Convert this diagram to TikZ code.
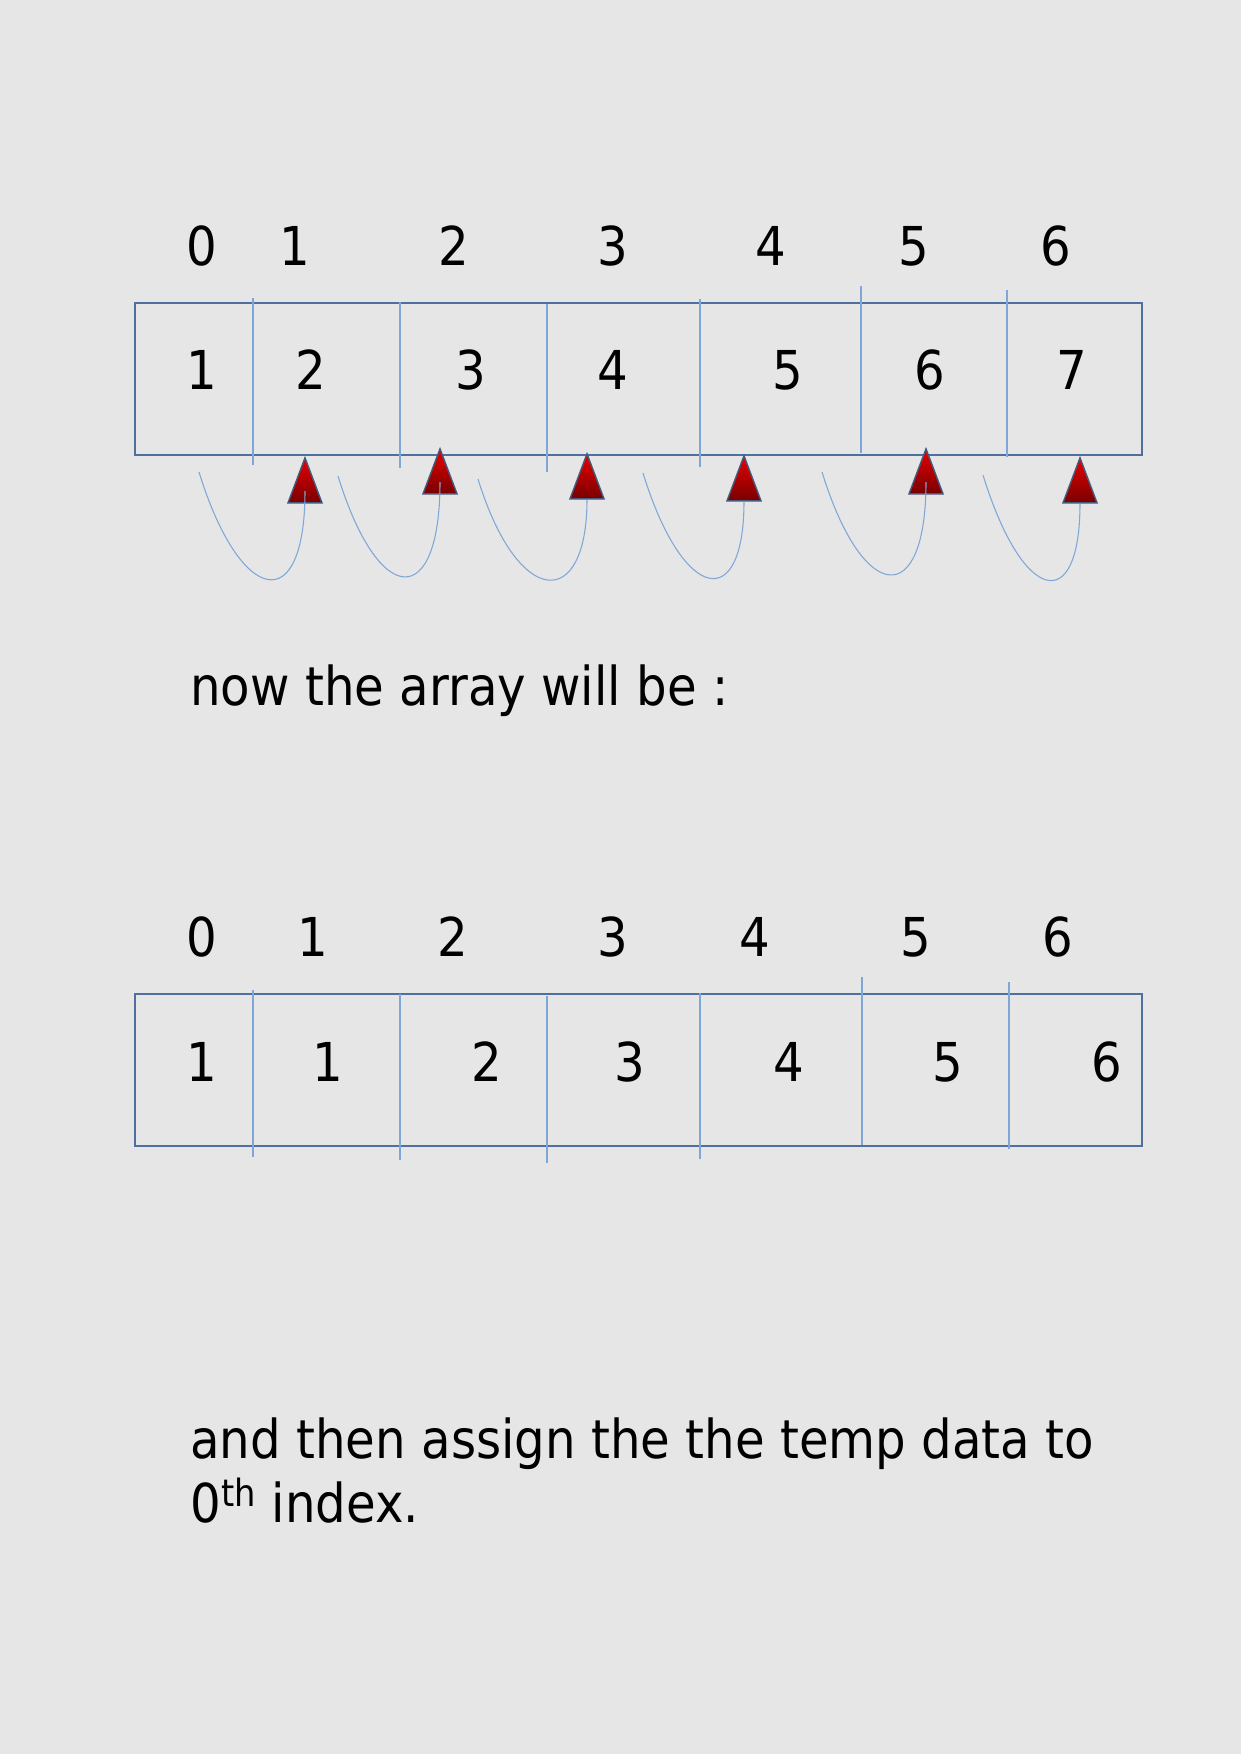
\documentclass[tikz,border=0pt]{standalone}
\usepackage{fontspec}
\setmainfont{DejaVu Sans}[FakeStretch=0.9]
\usepackage{tikz}
\usetikzlibrary{shapes.geometric,positioning}
\usepackage{xcolor}
\definecolor{bgcol}{RGB}{230,230,230}
\definecolor{boxcol}{RGB}{79,111,159}
\definecolor{divcol}{RGB}{126,166,214}
\definecolor{tritop}{RGB}{232,0,0}
\definecolor{tribot}{RGB}{120,0,0}
\definecolor{triedge}{RGB}{70,90,125}

\begin{document}
\begin{tikzpicture}[
  x=0.02cm, y=-0.02cm,
  idx/.style={font=\fontsize{30.5}{36}\selectfont, inner sep=0pt},
  arrbox/.style={draw=boxcol, line width=1.2pt, minimum width=20.14cm,
                 minimum height=3.04cm, anchor=north west, inner sep=0pt},
  divider/.style={draw=divcol, line width=0.6pt},
  pointer/.style={isosceles triangle, shape border rotate=90,
                  isosceles triangle stretches, minimum width=0.68cm,
                  minimum height=0.9cm, inner sep=0pt, anchor=apex,
                  draw=triedge, line width=0.8pt,
                  top color=tritop, bottom color=tribot},
  hop/.style={draw=divcol, line width=0.6pt},
  note/.style={font=\fontsize{30.5}{36}\selectfont, inner sep=0pt,
               anchor=base west}
]
  \useasboundingbox (0,0) rectangle (1241,1754);
  \fill[bgcol] (0,0) rectangle (1241,1754);

  % Array before the shift
  \node[arrbox] (arrA) at (134,302) {};
  \foreach \x/\ya/\yb in {253/298/465,400/302/468,547/304/472,
                          700/299/467,861/286/453,1007/290/457} {
    \draw[divider] (\x,\ya) -- (\x,\yb);
  }
  \foreach \n/\x in {0/202,1/295,2/454,3/613,4/771,5/914,6/1056} {
    \node[idx] (ia\n) at (\x,246) {\n};
  }
  \foreach \v/\x [count=\i] in {1/202,2/311,3/471,4/613,5/788,6/930,7/1072} {
    \node[idx] (va\i) at (\x,370) {\v};
  }

  % Pointers (each value moves one cell right)
  \foreach \x/\y [count=\i] in {305/456,440/447,587/452,744/454,926/447,1080/456} {
    \node[pointer] (t\i) at (\x,\y) {};
  }
  \coordinate (c1) at (199,472);
  \coordinate (c2) at (338,476);
  \coordinate (c3) at (478,479);
  \coordinate (c4) at (643,473);
  \coordinate (c5) at (822,472);
  \coordinate (c6) at (983,475);
  \foreach \i in {1,2,5} {
    \draw[hop] (c\i) .. controls +(41,133) and +(0,128) .. (t\i.center);
  }
  \foreach \i in {3,4,6} {
    \draw[hop] (c\i) .. controls +(40,130) and +(0,112) .. (t\i.south);
  }

  \node[note] (msg1) at (190,705) {now the array will be :};

  % Array after the shift
  \node[arrbox] (arrB) at (134,993) {};
  \foreach \x/\ya/\yb in {253/990/1157,400/994/1160,547/996/1163,
                          700/993/1159,862/977/1145,1009/982/1149} {
    \draw[divider] (\x,\ya) -- (\x,\yb);
  }
  \foreach \n/\x in {0/202,1/313,2/453,3/613,4/755,5/916,6/1058} {
    \node[idx] (ib\n) at (\x,937) {\n};
  }
  \foreach \v/\x [count=\i] in {1/202,1/328,2/487,3/630,4/789,5/948,6/1107} {
    \node[idx] (vb\i) at (\x,1062) {\v};
  }

  \node[note] (msg2) at (190,1458) {and then assign the the temp data to};
  \node[note] (msg3) at (190,1522) {0\textsuperscript{th} index.};
\end{tikzpicture}
\end{document}
